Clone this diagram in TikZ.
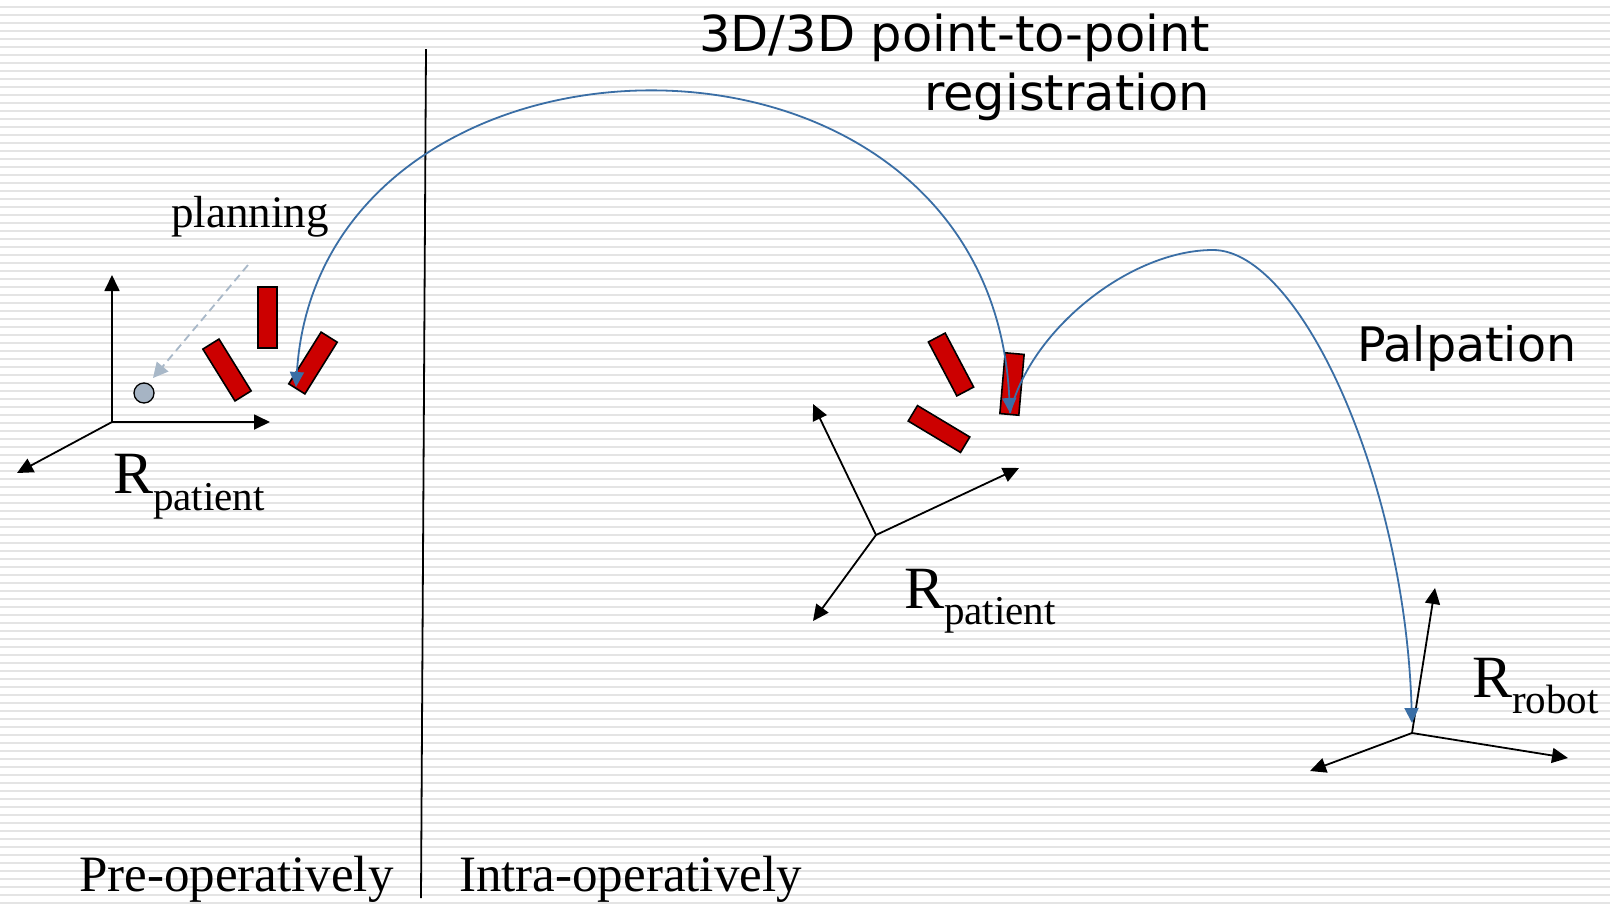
\documentclass[tikz,border=0pt]{standalone}
\usepackage{fontspec}
\setmainfont{Liberation Serif}
\newfontfamily\sansf{DejaVu Sans}
\usetikzlibrary{arrows.meta}
\definecolor{stripegray}{HTML}{E4E4E4}
\definecolor{arcblue}{RGB}{58,110,165}
\definecolor{markred}{HTML}{CC0000}
\definecolor{ptgray}{HTML}{A6B4C4}
\definecolor{dashgray}{HTML}{A8B8C8}
\tikzset{arctip/.tip={Triangle[length=15pt,width=14pt]}}
\begin{document}
\begin{tikzpicture}[x=1pt,y=-1pt,
  marker/.style={draw=black,line width=1.6pt,fill=markred,minimum width=19pt,minimum height=61pt,inner sep=0pt,outer sep=0pt},
  axisarrow/.style={line width=1.8pt,-{Triangle[length=16pt,width=15pt]}},
  arcline/.style={draw=arcblue,line width=1.8pt},
  serifbig/.style={inner sep=0pt,anchor=base west,font=\fontsize{51}{60}\selectfont},
  sanslabel/.style={inner sep=0pt,font=\sansf\fontsize{49.5}{58}\selectfont},
  framelabel/.style={inner sep=0pt,anchor=base west},
  divider/.style={line width=1.8pt}
]
\useasboundingbox (0,0) rectangle (1610,906);
\fill[white] (0,0) rectangle (1610,906);
\foreach \k in {0,...,112} {
  \fill[stripegray] (0,5.6+8*\k) rectangle (1610,7.6+8*\k);
}

% divider
\coordinate (dtop) at (426,49);
\coordinate (dbot) at (421,898);
\draw[divider] (dtop) -- (dbot);

% left frame
\coordinate (o1) at (112,422);
\coordinate (o1u) at (112,275);
\coordinate (o1r) at (270,422);
\coordinate (o1l) at (17,473);
\draw[axisarrow] (o1) -- (o1u);
\draw[axisarrow] (o1) -- (o1r);
\draw[axisarrow] (o1) -- (o1l);

% left markers
\node[marker] (r1) at (267.5,317.5) {};
\node[marker,rotate=31.8] (r2) at (227,370) {};
\node[marker,rotate=-32] (r3) at (313,363) {};

% planned point
\node[circle,draw=black,line width=1.3pt,fill=ptgray,minimum size=20pt,inner sep=0pt] (pt) at (144,393) {};
\coordinate (plstart) at (248,265);
\coordinate (plend) at (153,378);
\draw[dashgray,line width=1.8pt,dash pattern=on 8pt off 5pt,-{Triangle[length=15pt,width=15pt]}] (plstart) -- (plend);
\node[framelabel,font=\fontsize{45}{50}\selectfont] (plan) at (171,227) {planning};

% middle frame
\coordinate (o2) at (876,535);
\coordinate (o2u) at (813,404);
\coordinate (o2r) at (1019,468);
\coordinate (o2l) at (813,621);
\draw[axisarrow] (o2) -- (o2u);
\draw[axisarrow] (o2) -- (o2r);
\draw[axisarrow] (o2) -- (o2l);

% middle markers
\node[marker,rotate=-5] (m1) at (1012,384) {};
\node[marker,rotate=27.8] (m2) at (951,364.5) {};
\node[marker,rotate=59,minimum width=18pt] (m3) at (939,429) {};

% robot frame
\coordinate (o3) at (1412,733);
\coordinate (o3u) at (1435,588);
\coordinate (o3r) at (1568,758);
\coordinate (o3l) at (1310,771);
\draw[axisarrow] (o3) -- (o3u);
\draw[axisarrow] (o3) -- (o3r);
\draw[axisarrow] (o3) -- (o3l);

% arcs
\coordinate (t1) at (296,387);
\coordinate (t2) at (1010,413);
\coordinate (peak) at (1213,250);
\coordinate (t3) at (1412,723);
\draw[arcline,arctip-arctip] (t1) .. controls (320,0) and (990,-16) .. (t2);
\draw[arcline,-arctip] (t2) .. controls (1030,330) and (1130,250) .. (peak) .. controls (1300,250) and (1405,480) .. (t3);

% frame labels
\node[framelabel] (lab1) at (113,493) {\fontsize{60}{60}\selectfont R\raisebox{-17pt}{\fontsize{41}{41}\selectfont patient}};
\node[framelabel] (lab2) at (904,608) {\fontsize{60}{60}\selectfont R\raisebox{-16pt}{\fontsize{41}{41}\selectfont patient}};
\node[framelabel] (lab3) at (1472,697) {\fontsize{60}{60}\selectfont R\raisebox{-16pt}{\fontsize{41}{41}\selectfont robot}};

% titles
\node[sanslabel,anchor=base east] (reg1) at (1210,51) {3D/3D point-to-point};
\node[sanslabel,anchor=base east] (reg2) at (1210,110) {registration};
\node[sanslabel,anchor=base west,font=\sansf\fontsize{47.5}{50}\selectfont] (palp) at (1357,361) {Palpation};

% phase labels
\node[serifbig] (pre) at (79,891) {Pre-operatively};
\node[serifbig] (intra) at (459,891) {Intra-operatively};
\end{tikzpicture}
\end{document}
